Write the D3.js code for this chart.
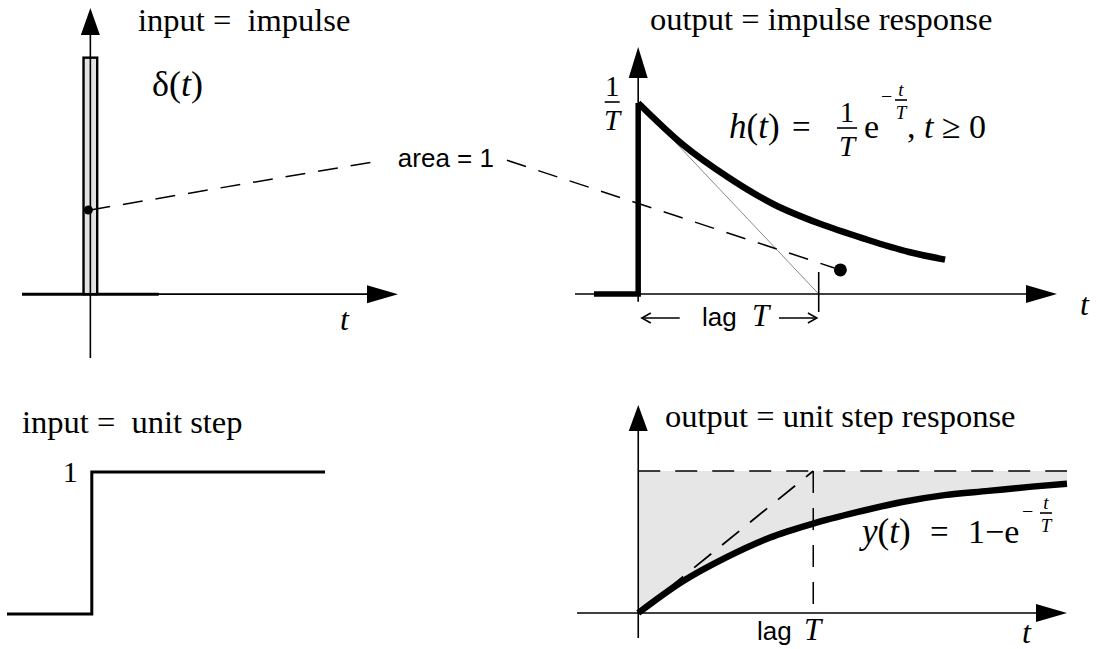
<!DOCTYPE html>
<html>
<head>
<meta charset="utf-8">
<script src="https://cdn.jsdelivr.net/npm/d3@7"></script>
<style>
body { margin: 0; background: #fff; }
svg { display: block; }
.serif { font-family: "Liberation Serif", "Times New Roman", serif; }
.sans { font-family: "Liberation Sans", Arial, sans-serif; }
text { white-space: pre; }
</style>
</head>
<body>
<div id="main"></div>
<script>
// values, time in units of the lag T
var impulseT = [0, 0.25, 0.5, 0.75, 1, 1.25, 1.5, 1.7];
var impulseH = [1, 0.78, 0.61, 0.47, 0.37, 0.29, 0.22, 0.18];
var stepT = [0, 0.25, 0.5, 0.75, 1, 1.25, 1.5, 1.75, 2, 2.25, 2.45];
var stepY = [0, 0.22, 0.39, 0.53, 0.63, 0.71, 0.78, 0.83, 0.86, 0.89, 0.91];
var unitStepT = [-1, 0, 0, 2.75];
var unitStepY = [0, 0, 1, 1];
var pulseWidth = 0.2;     // width of the narrow input pulse
var pulseArea = 1;
var lagT = 1;
var titles = ["input =  impulse", "output = impulse response", "input =  unit step", "output = unit step response"];

var width = 1099,
    height = 649;

var svg = d3.select("#main").append("svg")
    .attr("width", width)
    .attr("height", height);

// panel scales
var xA = d3.scaleLinear().domain([-1, 4.5]).range([22, 398]);
var yA = d3.scaleLinear().domain([-1.35, 6.05]).range([358, 8]);
var xB = d3.scaleLinear().domain([-0.35, 2.32]).range([575, 1057]);
var yB = d3.scaleLinear().domain([0, 1]).range([294, 103]);
var xC = d3.scaleLinear().domain([-1, 2.75]).range([7, 325]);
var yC = d3.scaleLinear().domain([0, 1]).range([614, 472]);
var xD = d3.scaleLinear().domain([-0.35, 2.45]).range([577, 1067]);
var yD = d3.scaleLinear().domain([0, 1]).range([613, 471]);

function seg(x1, y1, x2, y2, w, col, dash) {
    var l = svg.append("line")
        .attr("x1", x1).attr("y1", y1)
        .attr("x2", x2).attr("y2", y2)
        .attr("stroke", col || "#000")
        .attr("stroke-width", w);
    if (dash) l.attr("stroke-dasharray", dash);
    return l;
}

function tri(pts) {
    svg.append("path")
        .attr("d", "M" + pts.join("L") + "Z")
        .attr("fill", "#000");
}
function arrowUp(x, y, w, h) {
    tri([[x, y], [x - w / 2, y + h], [x + w / 2, y + h]]);
}
function arrowRight(x, y, w, h) {
    tri([[x, y], [x - h, y - w / 2], [x - h, y + w / 2]]);
}

// text helper: parts = [[string, italic], ...]
function label(x, y, parts, size, cls, anchor) {
    var t = svg.append("text")
        .attr("x", x).attr("y", y)
        .attr("class", cls || "serif")
        .attr("font-size", size)
        .attr("text-anchor", anchor || "start");
    if (typeof parts == "string") parts = [[parts, false]];
    parts.forEach(function(p) {
        t.append("tspan")
            .attr("font-style", p[1] ? "italic" : "normal")
            .text(p[0]);
    });
    return t;
}

function fraction(cx, yBar, num, den, size, barW, numItalic) {
    label(cx, yBar - size * 0.2, [[num, numItalic]], size, "serif", "middle");
    seg(cx - barW / 2, yBar, cx + barW / 2, yBar, 1.6);
    label(cx, yBar + size * 0.98, [[den, true]], size, "serif", "middle");
}

var line = d3.line().curve(d3.curveMonotoneX);

// ---------- top left : impulse input ----------
seg(xA(-1), yA(0), xA(4.5) - 28, yA(0), 1.6);
seg(xA(-1), yA(0), xA(1.0), yA(0), 3);
svg.append("rect")
    .attr("x", xA(-pulseWidth / 2))
    .attr("y", yA(pulseArea / pulseWidth))
    .attr("width", xA(pulseWidth / 2) - xA(-pulseWidth / 2))
    .attr("height", yA(0) - yA(pulseArea / pulseWidth))
    .attr("fill", "#e2e2e2")
    .attr("stroke", "#000")
    .attr("stroke-width", 2.4);
seg(xA(0), yA(-1.35), xA(0), yA(6.05) + 20, 1.6);
arrowUp(xA(0), yA(6.05), 19, 27);
arrowRight(xA(4.5), yA(0), 18, 31);
label(138, 31, titles[0], 32.5);
label(152, 96, [["δ(", false], ["t", true], [")", false]], 36);
label(340, 330, [["t", true]], 32);

// ---------- top right : impulse response ----------
seg(xB(-0.35), yB(0), xB(2.32) - 28, yB(0), 1.6);
seg(xB(0), yB(-0.04), xB(0), yB(1.293) + 20, 1.6);
// tangent at t = 0 reaching the axis at the lag
seg(xB(0), yB(1), xB(lagT), yB(0), 1, "#8a8a8a");
svg.append("path")
    .attr("d", d3.line()([[xB(-0.245), yB(0)], [xB(0), yB(0)], [xB(0), yB(1)]]))
    .attr("fill", "none").attr("stroke", "#000")
    .attr("stroke-width", 5.5).attr("stroke-linejoin", "miter");
svg.append("path")
    .attr("d", line(impulseT.map(function(t, i) { return [xB(t), yB(impulseH[i])]; })))
    .attr("fill", "none").attr("stroke", "#000")
    .attr("stroke-width", 6.5);
arrowUp(xB(0), yB(1.293), 19, 31);
arrowRight(xB(2.32), yB(0), 18, 31);
// lag tick
seg(xB(lagT), yB(0) - 22, xB(lagT), yB(0) + 18, 1.6);
label(650, 30, titles[1], 32.5);
label(1080, 315, [["t", true]], 32);

// lag T arrows
var lagY = yB(0) + 24;
seg(xB(0.02), lagY, xB(0.23), lagY, 1.5);
svg.append("path").attr("d", "M" + (xB(0.02) + 9) + "," + (lagY - 5) + "L" + xB(0.02) + "," + lagY + "L" + (xB(0.02) + 9) + "," + (lagY + 5))
    .attr("fill", "none").attr("stroke", "#000").attr("stroke-width", 1.5);
seg(xB(0.78), lagY, xB(0.99), lagY, 1.5);
svg.append("path").attr("d", "M" + (xB(0.99) - 9) + "," + (lagY - 5) + "L" + xB(0.99) + "," + lagY + "L" + (xB(0.99) - 9) + "," + (lagY + 5))
    .attr("fill", "none").attr("stroke", "#000").attr("stroke-width", 1.5);
label(702, 326, "lag", 26, "sans");
label(752, 326, [["T", true]], 31);

// 1/T on the axis
fraction(xB(0) - 26, yB(1) - 1, "1", "T", 29, 15, false);

// h(t) formula
label(729, 138, [["h", true], ["(", false], ["t", true], [")", false]], 35);
label(792, 138, "=", 33);
fraction(847, 128, "1", "T", 29, 20, false);
label(864, 138, "e", 34);
label(881, 103, "−", 20);
fraction(901, 100, "t", "T", 19, 12, true);
label(907, 138, [[",", false], [" t", true], [" ≥ 0", false]], 34);

// ---------- "area = 1" link ----------
var areaLabel = { t: -1.065, h: 0.70 };
var startPt = [xA(0), yA(1.78)];
var endPt = [xB(1.12), yB(0.126)];
var lx = xB(areaLabel.t), ly = yB(areaLabel.h);
seg(startPt[0], startPt[1], lx - 63, ly, 1.5, "#000", "20,13");
seg(lx + 61, ly, endPt[0] - 6, endPt[1] - 2, 1.5, "#000", "20,13");
svg.append("circle").attr("cx", startPt[0] - 2).attr("cy", startPt[1]).attr("r", 4.5).attr("fill", "#000");
svg.append("circle").attr("cx", endPt[0]).attr("cy", endPt[1]).attr("r", 6.5).attr("fill", "#000");
label(lx, ly + 7, "area = 1", 26, "sans", "middle");

// ---------- bottom left : unit step input ----------
svg.append("path")
    .attr("d", d3.line()(unitStepT.map(function(t, i) { return [xC(t), yC(unitStepY[i])]; })))
    .attr("fill", "none").attr("stroke", "#000")
    .attr("stroke-width", 3).attr("stroke-linejoin", "miter");
label(22, 433, titles[2], 32.5);
label(xC(0) - 14, 482, "1", 30, "serif", "end");

// ---------- bottom right : unit step response ----------
svg.append("path")
    .attr("d", d3.area().curve(d3.curveMonotoneX)
        .x(function(d, i) { return xD(stepT[i]); })
        .y0(yD(1))
        .y1(function(d) { return yD(d); })(stepY))
    .attr("fill", "#e6e6e6");
seg(xD(-0.35), yD(0), xD(2.45) - 28, yD(0), 1.6);
seg(xD(0), yD(-0.176), xD(0), yD(1.465) + 20, 1.6);
seg(xD(0), yD(1), xD(2.45), yD(1), 1.5, "#000", "22,15");
seg(xD(lagT), yD(1), xD(lagT), yD(0), 1.5, "#000", "22,15");
seg(xD(0), yD(0), xD(lagT), yD(1), 1.8, "#000", "22,14");
svg.append("path")
    .attr("d", line(stepT.map(function(t, i) { return [xD(t), yD(stepY[i])]; })))
    .attr("fill", "none").attr("stroke", "#000")
    .attr("stroke-width", 6.5);
arrowUp(xD(0), yD(1.465), 19, 26);
arrowRight(xD(2.45), yD(0), 18, 31);
label(665, 427, titles[3], 32.5);
label(1022, 643, [["t", true]], 32);
label(757, 640, "lag", 26, "sans");
label(804, 640, [["T", true]], 31);

// y(t) formula
label(862, 543, [["y", true], ["(", false], ["t", true], [")", false]], 35);
label(930, 543, "=", 33);
label(968, 543, "1−e", 34);
label(1022, 518, "−", 20);
fraction(1046, 513, "t", "T", 19, 12, true);
</script>
</body>
</html>
